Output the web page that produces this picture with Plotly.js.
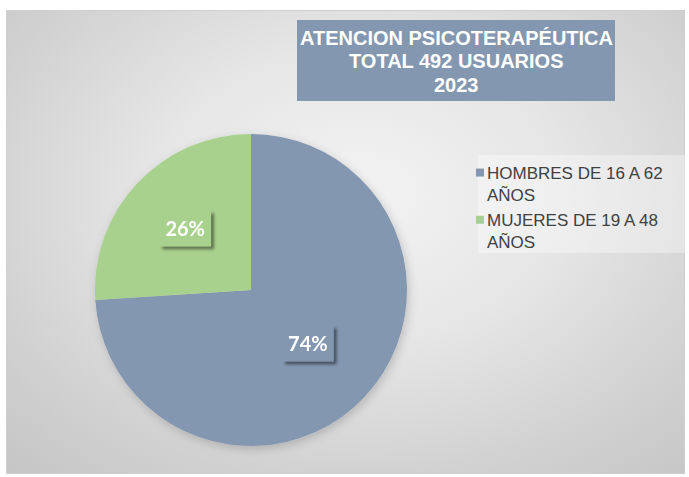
<!DOCTYPE html>
<html>
<head>
<meta charset="utf-8">
<script src="https://cdn.plot.ly/plotly-3.0.1.min.js"></script>
<style>
  html, body { margin:0; padding:0; background:#ffffff; }
  #wrap { position:relative; width:689px; height:477px; }
  #bg { position:absolute; left:6px; top:10px; width:677px; height:462px;
        border:1px solid #cfcfcf;
        background: radial-gradient(ellipse 75% 80% at 52% 40%, #f3f3f3 0%, #e6e6e6 40%, #d2d2d2 75%, #c6c6c6 100%); }
  #chart { position:absolute; left:0; top:0; width:689px; height:477px; }
</style>
</head>
<body>
<div id="wrap">
  <div id="bg"></div>
  <div id="chart"></div>
</div>
<script>
const categories = ["HOMBRES DE 16 A 62<br>AÑOS", "MUJERES DE 19 A 48<br>AÑOS"];
const values = [364, 128];
const colors = ["#8497B0", "#A9D18E"];
const titleLines = ["ATENCION PSICOTERAPÉUTICA", "TOTAL 492 USUARIOS", "2023"];

const W = 689, H = 477;
const cx = 251, cy = 290, r = 156;

const trace = {
  type: "pie",
  labels: categories,
  values: values,
  sort: false,
  direction: "clockwise",
  rotation: 0,
  marker: { colors: colors, line: { width: 0 } },
  textinfo: "percent",
  texttemplate: "%{percent:.0%}",
  textposition: "inside",
  insidetextorientation: "horizontal",
  textfont: { family: "Lato, 'Open Sans', sans-serif", size: 20, color: "#ffffff", weight: "bold" },
  hoverinfo: "label+percent",
  domain: { x: [(cx - r) / W, (cx + r) / W], y: [(H - cy - r) / H, (H - cy + r) / H] }
};

const titleY = [38, 61, 85];
const titleAnn = titleLines.map(function (t, i) {
  return { xref: "paper", yref: "paper", x: 456 / W, y: 1 - titleY[i] / H, xanchor: "center", yanchor: "middle",
    showarrow: false, text: t,
    font: { family: "Arial, 'Liberation Sans', sans-serif", size: 20, color: "#ffffff", weight: "bold" } };
});

const layout = {
  width: W, height: H,
  margin: { l: 0, r: 0, t: 0, b: 0 },
  paper_bgcolor: "rgba(0,0,0,0)",
  plot_bgcolor: "rgba(0,0,0,0)",
  showlegend: true,
  legend: {
    x: 447 / W, y: 1 - 155 / H, xanchor: "left", yanchor: "top",
    bgcolor: "rgba(0,0,0,0)", valign: "top",
    font: { family: "Arial, 'Liberation Sans', sans-serif", size: 17, color: "#404040" },
    tracegroupgap: 0
  },
  shapes: [
    { type: "rect", xref: "paper", yref: "paper",
      x0: 478 / W, x1: 688 / W, y0: 1 - 155 / H, y1: 1 - 253 / H,
      fillcolor: "rgba(255,255,255,0.35)", line: { width: 0 }, layer: "below" },
    { type: "rect", xref: "paper", yref: "paper",
      x0: 297 / W, x1: 615 / W, y0: 1 - 20 / H, y1: 1 - 101 / H,
      fillcolor: "#8497B0", line: { width: 0 }, layer: "below" }
  ],
  annotations: titleAnn
};

Plotly.newPlot("chart", [trace], layout, { displayModeBar: false, staticPlot: true }).then(function (gd) {
  const svgNS = "http://www.w3.org/2000/svg";
  const mainSvg = gd.querySelector("svg.main-svg");
  let defs = mainSvg.querySelector("defs");
  if (!defs) { defs = document.createElementNS(svgNS, "defs"); mainSvg.insertBefore(defs, mainSvg.firstChild); }
  defs.insertAdjacentHTML("beforeend",
    '<filter id="lblshadow" x="-30%" y="-30%" width="160%" height="160%"><feDropShadow dx="3" dy="3" stdDeviation="1.5" flood-color="#000" flood-opacity="0.45"/></filter>' +
    '<filter id="pieshadow" x="-10%" y="-10%" width="120%" height="120%"><feDropShadow dx="2" dy="3" stdDeviation="5" flood-color="#000" flood-opacity="0.18"/></filter>');
  const trGroup = gd.querySelector("g.trace");
  if (trGroup) trGroup.setAttribute("filter", "url(#pieshadow)");
  gd.querySelectorAll("g.slice").forEach(function (s, i) {
    const t = s.querySelector("g.slicetext");
    if (!t) return;
    const bb = t.getBBox();
    const rect = document.createElementNS(svgNS, "rect");
    const padX = 6, padY = 7;
    rect.setAttribute("x", bb.x - padX);
    rect.setAttribute("y", bb.y - padY + 1);
    rect.setAttribute("width", bb.width + 2 * padX);
    rect.setAttribute("height", bb.height + 2 * padY - 2);
    rect.setAttribute("fill", colors[i]);
    rect.setAttribute("filter", "url(#lblshadow)");
    const tf = t.getAttribute("transform");
    if (tf) rect.setAttribute("transform", tf);
    t.parentNode.insertBefore(rect, t);
  });
  // legend swatches: smaller squares placed close to the text, as in the reference
  gd.querySelectorAll("g.legend g.legendpoints path").forEach(function (p) {
    p.setAttribute("d", "M4,4H-4V-4H4Z");
    p.setAttribute("transform", "translate(33,0)");
  });
});
</script>
</body>
</html>
